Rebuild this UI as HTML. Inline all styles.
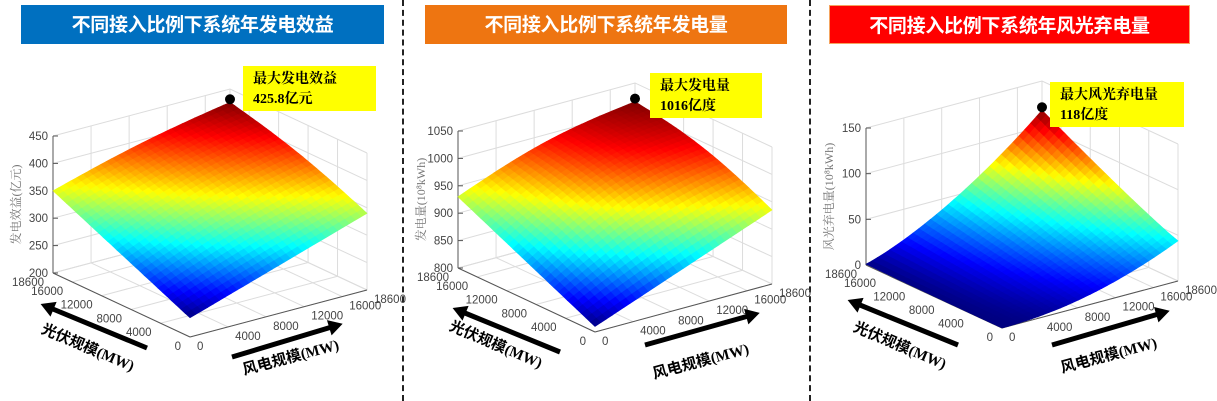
<!DOCTYPE html>
<html><head><meta charset="utf-8"><style>
html,body{margin:0;padding:0;background:#fff;}
body{width:1217px;height:401px;overflow:hidden;position:relative;font-family:"Liberation Sans","Noto Sans CJK SC",sans-serif;}
.t{position:absolute;top:5px;height:39px;line-height:38px;text-align:center;color:#fff;font-weight:bold;font-size:19px;box-sizing:border-box;font-family:"Noto Sans CJK SC",sans-serif;letter-spacing:-0.3px;}
.y{position:absolute;background:#ffff00;font-weight:bold;font-size:14px;line-height:20px;padding:4px 0 0 10px;box-sizing:border-box;font-family:"Liberation Serif","Noto Serif CJK SC",serif;}
.sep{position:absolute;top:0;height:401px;border-left:2px dashed #222;}
svg{position:absolute;left:0;top:0;}
</style></head><body>
<div class="t" style="left:21px;width:363px;background:#0070C0;">不同接入比例下系统年发电效益</div>
<div class="t" style="left:425px;width:362px;background:#EE7511;">不同接入比例下系统年发电量</div>
<div class="t" style="left:829px;width:361px;background:#FF0000;border:1px solid #F4A460;">不同接入比例下系统年风光弃电量</div>
<div class="sep" style="left:402px"></div>
<div class="sep" style="left:809px"></div>
<svg id="s" width="1217" height="401" xmlns="http://www.w3.org/2000/svg"></svg>
<div class="y" style="left:243px;top:66px;width:133px;height:45px;">最大发电效益<br>425.8亿元</div>
<div class="y" style="left:650px;top:73px;width:112px;height:45px;">最大发电量<br>1016亿度</div>
<div class="y" style="left:1050px;top:82px;width:134px;height:45px;">最大风光弃电量<br>118亿度</div>
<script>
var S=document.getElementById('s'),NS='http://www.w3.org/2000/svg';
function el(t,a,txt){var e=document.createElementNS(NS,t);for(var k in a)e.setAttribute(k,a[k]);if(txt!==undefined)e.textContent=txt;S.appendChild(e);return e;}
function jet(v){v=Math.max(0,Math.min(1,v));function f(x){return Math.max(0,Math.min(1,1.5-Math.abs(4*v-x)));}
var r=f(3),g=f(2),b=f(1);return 'rgb('+Math.round(r*255)+','+Math.round(g*255)+','+Math.round(b*255)+')';}
function chart(c){
 var F=c.front,L=c.left,R=c.right;
 function P(p,w,z){return [F[0]+(L[0]-F[0])*p+(R[0]-F[0])*w, F[1]+(L[1]-F[1])*p+(R[1]-F[1])*w-(z-c.z0)/(c.z1-c.z0)*c.zh];}
 var g='#dcdcdc',ticks=[0,4000,8000,12000,16000,18600];
 c.zt.forEach(function(z){var a=P(1,0,z),b=P(1,1,z),d=P(0,1,z);el('polyline',{points:a+' '+b+' '+d,fill:'none',stroke:g,'stroke-width':1});});
 ticks.forEach(function(t){var u=t/18600;
  var a=P(u,1,c.z0),b=P(u,1,c.z1);el('line',{x1:a[0],y1:a[1],x2:b[0],y2:b[1],stroke:g});
  a=P(1,u,c.z0);b=P(1,u,c.z1);el('line',{x1:a[0],y1:a[1],x2:b[0],y2:b[1],stroke:g});
  a=P(u,0,c.z0);b=P(u,1,c.z0);el('line',{x1:a[0],y1:a[1],x2:b[0],y2:b[1],stroke:g});
  a=P(0,u,c.z0);b=P(1,u,c.z0);el('line',{x1:a[0],y1:a[1],x2:b[0],y2:b[1],stroke:g});
 });
 var ax='#555';
 var a=P(1,0,c.z0),b=P(1,0,c.z1);el('line',{x1:a[0],y1:a[1],x2:b[0],y2:b[1],stroke:ax});
 a=P(0,0,c.z0);b=P(1,0,c.z0);el('line',{x1:a[0],y1:a[1],x2:b[0],y2:b[1],stroke:ax});
 a=P(0,0,c.z0);b=P(0,1,c.z0);el('line',{x1:a[0],y1:a[1],x2:b[0],y2:b[1],stroke:ax});
 c.zt.forEach(function(z){var q=P(1,0,z);el('line',{x1:q[0],y1:q[1],x2:q[0]+5,y2:q[1],stroke:ax});
  el('text',{x:q[0]-5,y:q[1]+4,'text-anchor':'end','font-size':11.5,fill:'#444'},z);});
 ticks.forEach(function(t){var u=t/18600,q=P(u,0,c.z0);
  el('text',{x:q[0]-9,y:q[1]+13,'text-anchor':'end','font-size':11.5,fill:'#444'},t);
  q=P(0,u,c.z0);el('text',{x:q[0]+7,y:q[1]+13,'font-size':11.5,fill:'#444'},t);});
 var zl=P(1,0,(c.z0+c.z1)/2);
 el('text',{x:0,y:0,transform:'translate('+(zl[0]-33)+','+zl[1]+') rotate(-90)','text-anchor':'middle','font-size':12,fill:'#777','font-family':'"Liberation Serif","Noto Serif CJK SC",serif'},c.zlab);
 var N=30,q=[];
 for(var i=0;i<N;i++)for(var j=0;j<N;j++)q.push([i,j]);
 q.sort(function(A,Bq){return (Bq[0]+Bq[1])-(A[0]+A[1]);});
 var zs=[];for(var i=0;i<=N;i++){zs[i]=[];for(var j=0;j<=N;j++)zs[i][j]=c.f(i/N,j/N);}
 var mn=1e9,mx=-1e9;zs.forEach(function(r){r.forEach(function(v){mn=Math.min(mn,v);mx=Math.max(mx,v);});});
 q.forEach(function(k){var i=k[0],j=k[1];
  var pts=[P(i/N,j/N,zs[i][j]),P((i+1)/N,j/N,zs[i+1][j]),P((i+1)/N,(j+1)/N,zs[i+1][j+1]),P(i/N,(j+1)/N,zs[i][j+1])];
  var zv=(zs[i][j]+zs[i+1][j]+zs[i+1][j+1]+zs[i][j+1])/4,col=jet((zv-mn)/(mx-mn));
  el('polygon',{points:pts.map(function(p){return p[0].toFixed(1)+','+p[1].toFixed(1);}).join(' '),fill:col,stroke:col,'stroke-width':0.6});});
 var tp=P(1,1,zs[N][N]);el('circle',{cx:tp[0],cy:tp[1]-3,r:5,fill:'#000'});
 var A1=c.pa;el('line',{x1:A1[0],y1:A1[1],x2:A1[2],y2:A1[3],stroke:'#000','stroke-width':5});
 arrowHead(A1);
 var A2=c.wa;el('line',{x1:A2[0],y1:A2[1],x2:A2[2],y2:A2[3],stroke:'#000','stroke-width':5});
 arrowHead(A2);
 el('text',{x:0,y:0,transform:'translate('+c.pl[0]+','+c.pl[1]+') rotate('+c.pl[2]+')','font-size':15,'font-weight':'bold','text-anchor':'middle','font-family':'"Liberation Serif","Noto Sans CJK SC",serif'},'光伏规模(MW)');
 el('text',{x:0,y:0,transform:'translate('+c.wl[0]+','+c.wl[1]+') rotate('+c.wl[2]+')','font-size':15,'font-weight':'bold','text-anchor':'middle','font-family':'"Liberation Serif","Noto Sans CJK SC",serif'},'风电规模(MW)');
}
function arrowHead(A){var dx=A[2]-A[0],dy=A[3]-A[1],l=Math.hypot(dx,dy);dx/=l;dy/=l;
 var tx=A[2]+dx*8,ty=A[3]+dy*8,bx=A[2]-dx*6,by=A[3]-dy*6,nx=-dy,ny=dx;
 el('polygon',{points:tx+','+ty+' '+(bx+nx*8)+','+(by+ny*8)+' '+(bx-nx*8)+','+(by-ny*8),fill:'#000'});}
chart({front:[190,337],left:[53,273],right:[367,290],z0:200,z1:450,zh:137,zt:[200,250,300,350,400,450],zlab:'发电效益(亿元)',
 f:function(p,w){var b=235*(1-p)*(1-w)+350*p*(1-w)+340*(1-p)*w+425.8*p*w;return b+25*Math.sin(Math.PI*p)*Math.sin(Math.PI*w)*0.3+8*Math.sin(Math.PI*p)*w+6*Math.sin(Math.PI*w)*p;},
 pa:[147,348,48,307],wa:[232,357,335,326],pl:[86,352,23],wl:[292,362,-15]});
chart({front:[595,332],left:[458,268],right:[772,284],z0:800,z1:1050,zh:137,zt:[800,850,900,950,1000,1050],zlab:'发电量(10⁸kWh)',
 f:function(p,w){var b=810*(1-p)*(1-w)+930*p*(1-w)+935*(1-p)*w+1016*p*w;return b+18*Math.sin(Math.PI*p)*Math.sin(Math.PI*w)+14*Math.sin(Math.PI*p)*w+14*Math.sin(Math.PI*w)*p;},
 pa:[560,352,460,311],wa:[645,345,752,315],pl:[494,349,23],wl:[702,366,-15]});
chart({front:[1002,328],left:[866,265],right:[1178,281],z0:0,z1:150,zh:137,zt:[0,50,100,150],zlab:'风光弃电量(10⁸kWh)',
 f:function(p,w){return 1*p*p+44*w*w+73*p*w*Math.pow(p*w,0.1);},
 pa:[958,345,855,303],wa:[1052,345,1162,313],pl:[898,350,23],wl:[1110,360,-15]});
</script>
</body></html>
